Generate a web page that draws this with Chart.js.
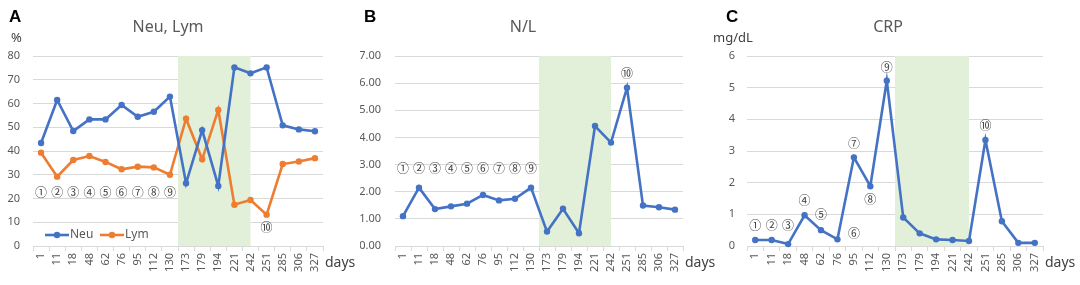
<!DOCTYPE html>
<html><head><meta charset="utf-8">
<script src="https://cdn.jsdelivr.net/npm/chart.js@4.4.1/dist/chart.umd.min.js"></script>
<style>
html,body{margin:0;padding:0;background:#fff;width:1080px;height:285px;overflow:hidden}
.box{position:absolute;top:0;height:285px}
</style></head><body>
<div class="box" style="left:0;width:360px"><canvas id="cA" width="360" height="285"></canvas></div>
<div class="box" style="left:360px;width:360px"><canvas id="cB" width="360" height="285"></canvas></div>
<div class="box" style="left:700px;width:380px"><canvas id="cC" width="380" height="285"></canvas></div>
<script>
const days = ['1','11','18','48','62','76','95','112','130','173','179','194','221','242','251','285','306','327'];
const neu = [43.4,61.5,48.4,53.3,53.3,59.4,54.4,56.5,62.9,26.4,48.8,25.3,75.2,72.7,75.2,50.8,49.1,48.3];
const lym = [39.3,29.2,36.2,37.9,35.4,32.3,33.4,33.1,30.0,53.6,36.5,57.3,17.4,19.4,13.2,34.5,35.6,37.0];
const nl  = [1.10,2.15,1.36,1.46,1.56,1.88,1.68,1.74,2.15,0.53,1.37,0.47,4.42,3.81,5.83,1.49,1.43,1.34];
const crp = [0.19,0.19,0.06,0.97,0.50,0.21,2.80,1.89,5.22,0.90,0.40,0.21,0.19,0.16,3.35,0.78,0.10,0.10];
const circled = ['①','②','③','④','⑤','⑥','⑦','⑧','⑨','⑩'];
// annotation anchors: [label index, category index, value]
const notesA = [[0,0,22.5],[1,1,22.5],[2,2,22.5],[3,3,22.5],[4,4,22.5],[5,5,22.5],[6,6,22.5],[7,7,22.5],[8,8,22.5],[9,14,8]];
const notesB = [[0,0,2.85],[1,1,2.85],[2,2,2.85],[3,3,2.85],[4,4,2.85],[5,5,2.85],[6,6,2.85],[7,7,2.85],[8,8,2.85],[9,14,6.35]];
const notesC = [[0,0,0.65],[1,1,0.65],[2,2,0.65],[3,3,1.45],[4,4,1.0],[5,6,0.4],[6,6,3.25],[7,7,1.47],[8,8,5.63],[9,14,3.8]];
const bandRange = [8.5, 13];

const BLUE = '#4472C4', ORANGE = '#ED7D31', GRID = '#D9D9D9', TXT = '#595959';
const FONT = "'Noto Sans', 'DejaVu Sans', sans-serif";

function makeChart(id, cfg) {
  const series = cfg.series.map(s => ({
    label: s.label, data: s.data, borderColor: s.color, backgroundColor: s.color,
    borderWidth: 2.6, pointRadius: 3.2, pointHoverRadius: 3.2, pointBorderWidth: 0,
    tension: 0, clip: false
  }));
  const plugin = {
    id: 'extras' + id,
    beforeDatasetsDraw(chart) {
      const ctx = chart.ctx, x = chart.scales.x, a = chart.chartArea;
      const sp = x.getPixelForValue(1) - x.getPixelForValue(0);
      const x0 = x.getPixelForValue(0) + bandRange[0] * sp;
      const x1 = x.getPixelForValue(0) + bandRange[1] * sp;
      ctx.save();
      ctx.fillStyle = '#E2F0D9';
      ctx.fillRect(x0, a.top, x1 - x0, a.bottom - a.top);
      ctx.restore();
    },
    afterDraw(chart) {
      const ctx = chart.ctx, x = chart.scales.x, y = chart.scales.y, a = chart.chartArea;
      ctx.save();
      ctx.fillStyle = '#000';
      ctx.font = "bold 17px 'Liberation Sans', Arial, sans-serif";
      ctx.textBaseline = 'alphabetic'; ctx.textAlign = 'left';
      ctx.fillText(cfg.letter, cfg.letterX, 22);
      ctx.fillStyle = TXT;
      ctx.font = "16px " + FONT;
      ctx.textAlign = 'center'; ctx.textBaseline = 'middle';
      ctx.fillText(cfg.title, cfg.titleX, 27);
      if (cfg.unit) {
        ctx.fillStyle = '#404040';
        ctx.font = "13px " + FONT;
        ctx.textAlign = 'left';
        ctx.fillText(cfg.unit, cfg.unitX, 38);
      }
      ctx.fillStyle = '#404040';
      ctx.font = "14px " + FONT;
      ctx.textAlign = 'left';
      ctx.fillText('days', a.right + 2, 263);
      ctx.font = "12px 'Noto Sans CJK JP', 'DejaVu Sans', sans-serif";
      ctx.textAlign = 'center';
      cfg.notes.forEach(n => {
        ctx.fillText(circled[n[0]], x.getPixelForValue(n[1]), y.getPixelForValue(n[2]));
      });
      if (cfg.legend) {
        const ly = 235;
        let lx = 45;
        ctx.font = "12px " + FONT;
        cfg.series.forEach(s => {
          ctx.strokeStyle = s.color; ctx.fillStyle = s.color; ctx.lineWidth = 2.6;
          ctx.beginPath(); ctx.moveTo(lx, ly); ctx.lineTo(lx + 24, ly); ctx.stroke();
          ctx.beginPath(); ctx.arc(lx + 12, ly, 3.2, 0, Math.PI * 2); ctx.fill();
          ctx.fillStyle = TXT; ctx.textAlign = 'left';
          ctx.fillText(s.label, lx + 25, ly);
          lx += 55;
        });
      }
      ctx.restore();
    }
  };
  return new Chart(document.getElementById(id), {
    type: 'line',
    data: { labels: days, datasets: series },
    plugins: [plugin],
    options: {
      responsive: false, animation: false, events: [],
      layout: { padding: { left: cfg.padLeft, right: cfg.padRight, top: 56, bottom: 0 } },
      plugins: { legend: { display: false }, tooltip: { enabled: false }, title: { display: false } },
      scales: {
        x: {
          offset: true,
          grid: { drawOnChartArea: false, drawTicks: true, tickLength: 5, offset: true, color: GRID },
          border: { display: true, color: GRID, width: 1 },
          ticks: { minRotation: 90, maxRotation: 90, autoSkip: false, padding: 2, color: TXT, font: { family: FONT, size: 11 } },
          afterFit(s) { s.height = 39; }
        },
        y: {
          min: 0, max: cfg.max,
          grid: { color: GRID, drawTicks: false, lineWidth: 1 },
          border: { display: false },
          ticks: { stepSize: cfg.step, padding: cfg.tickPad, color: TXT, font: { family: FONT, size: 11 },
                   callback: cfg.fmt },
          afterFit(s) { s.width = cfg.yWidth; }
        }
      }
    }
  });
}

makeChart('cA', {
  series: [{ label: 'Neu', data: neu, color: BLUE }, { label: 'Lym', data: lym, color: ORANGE }],
  max: 80, step: 10, yWidth: 33, tickPad: 13, padLeft: 0, padRight: 37, fmt: v => v,
  letter: 'A', letterX: 9, title: 'Neu, Lym', titleX: 168, unit: '%', unitX: 11,
  notes: notesA, legend: true
});
makeChart('cB', {
  series: [{ label: 'N/L', data: nl, color: BLUE }],
  max: 7, step: 1, yWidth: 35, tickPad: 14, padLeft: 0, padRight: 37, fmt: v => Number(v).toFixed(2),
  letter: 'B', letterX: 4, title: 'N/L', titleX: 163, unit: null,
  notes: notesB, legend: false
});
makeChart('cC', {
  series: [{ label: 'CRP', data: crp, color: BLUE }],
  max: 6, step: 1, yWidth: 27, tickPad: 12, padLeft: 20, padRight: 37, fmt: v => v,
  letter: 'C', letterX: 26, title: 'CRP', titleX: 188, unit: 'mg/dL', unitX: 13,
  notes: notesC, legend: false
});
</script>
</body></html>
